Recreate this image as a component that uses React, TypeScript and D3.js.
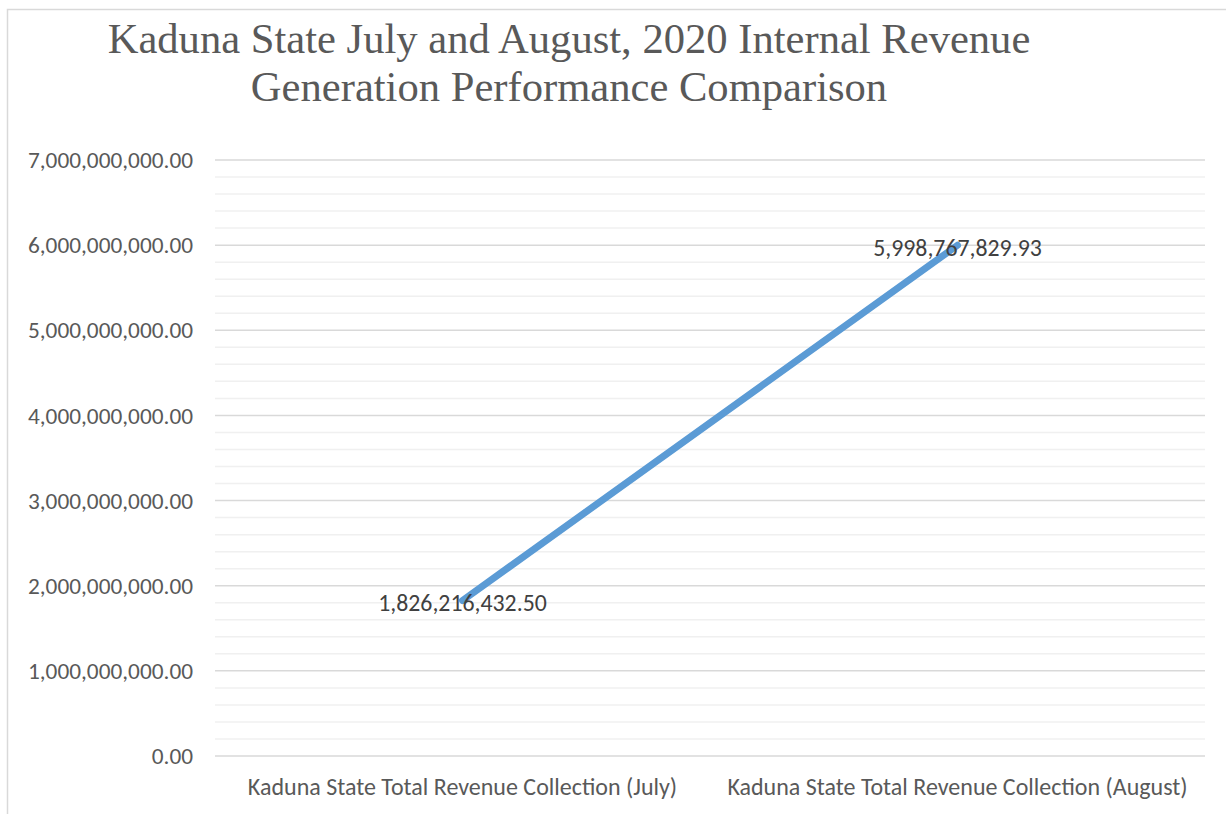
import React from "react";
import * as d3 from "d3";

const categories = [
  "Kaduna State Total Revenue Collection (July)",
  "Kaduna State Total Revenue Collection (August)",
];
const values = [1826216432.5, 5998767829.93];
const titleLines = [
  "Kaduna State July and August, 2020 Internal Revenue",
  "Generation Performance Comparison",
];
const yMax = 7000000000;
const majorStep = 1000000000;
const minorStep = 200000000;

const W = 1226;
const H = 814;
const margin = { left: 215, right: 1205, top: 160, bottom: 756 };

export default function App() {
  const x = d3.scaleBand<string>().domain(categories).range([margin.left, margin.right]).padding(0);
  const y = d3.scaleLinear().domain([0, yMax]).range([margin.bottom, margin.top]);
  const majors = d3.range(0, yMax + 1, majorStep);
  const minors = d3.range(0, yMax + 1, minorStep).filter((v) => Math.round(v / minorStep) % 5 !== 0);
  const fmt = d3.format(",.2f");
  const cx = (c: string) => (x(c) ?? 0) + x.bandwidth() / 2;
  const line = d3
    .line<number>()
    .x((_, i) => cx(categories[i]))
    .y((v) => y(v));
  const sans = "Carlito, Lato, 'Open Sans', sans-serif";
  return (
    <svg width={W} height={H} style={{ position: "absolute", left: 0, top: 0 }}>
      <rect x={0} y={0} width={W} height={H} fill="#fff" />
      <rect x={7.5} y={9.5} width={W} height={H} fill="none" stroke="#d9d9d9" strokeWidth={1.5} />
      {titleLines.map((t, i) => (
        <text
          key={i}
          x={569}
          y={53 + i * 48}
          textAnchor="middle"
          fontFamily="'Liberation Serif', 'Times New Roman', serif"
          fontSize={42.6}
          fill="#595959"
        >
          {t}
        </text>
      ))}
      {minors.map((v) => (
        <line key={"m" + v} x1={margin.left} x2={margin.right} y1={y(v)} y2={y(v)} stroke="#f0f0f0" strokeWidth={1.5} />
      ))}
      {majors.map((v) => (
        <line key={"M" + v} x1={margin.left} x2={margin.right} y1={y(v)} y2={y(v)} stroke="#d9d9d9" strokeWidth={1.5} />
      ))}
      {majors.map((v) => (
        <text
          key={"t" + v}
          x={193}
          y={y(v)}
          dy="0.35em"
          textAnchor="end"
          fontFamily={sans}
          fontSize={23.3}
          fill="#595959"
        >
          {fmt(v)}
        </text>
      ))}
      {categories.map((c) => (
        <text key={c} x={cx(c)} y={795} textAnchor="middle" fontFamily={sans} fontSize={24} fill="#595959">
          {c}
        </text>
      ))}
      <path d={line(values) ?? ""} fill="none" stroke="#5b9bd5" strokeWidth={7} strokeLinecap="round" />
      {values.map((v, i) => (
        <text
          key={"d" + i}
          x={cx(categories[i])}
          y={y(v) + 2}
          dy="0.35em"
          textAnchor="middle"
          fontFamily={sans}
          fontSize={23.8}
          fill="#404040"
        >
          {fmt(v)}
        </text>
      ))}
    </svg>
  );
}
